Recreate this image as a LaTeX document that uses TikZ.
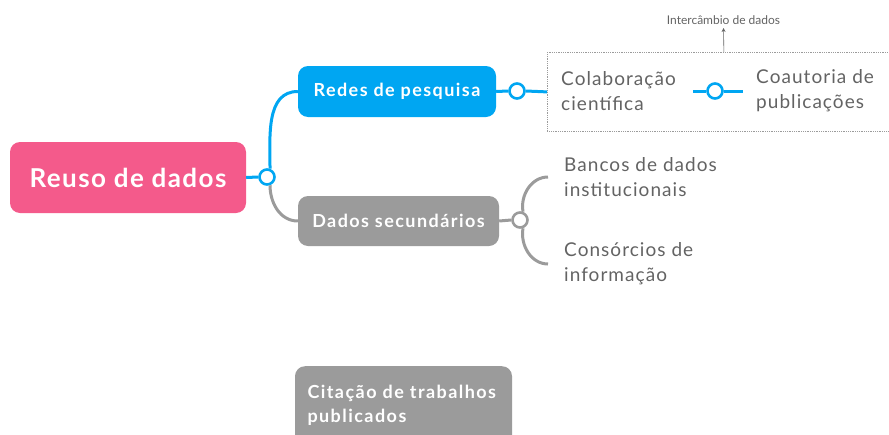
\documentclass[tikz,border=0pt]{standalone}
\usepackage{fontspec}
\setmainfont{Lato}
\newfontfamily\caixafont[LetterSpace=8]{Lato}
\newfontfamily\raizfont[LetterSpace=5.5]{Lato}
\newfontfamily\folhafont[LetterSpace=5.5]{Lato}
\usetikzlibrary{arrows.meta}
\definecolor{rosa}{HTML}{F45A8B}
\definecolor{azul}{HTML}{00A6F2}
\definecolor{cinza}{HTML}{9B9B9B}
\definecolor{texto}{HTML}{636363}
\begin{document}
\begin{tikzpicture}[x=1pt, y=-1pt,
    caixa/.style={rounded corners=10pt, text=white, inner sep=0pt, font=\caixafont\bfseries\fontsize{18}{23}\selectfont},
    folha/.style={anchor=west, align=left, text=texto, font=\folhafont\fontsize{19}{25}\selectfont, inner sep=0pt},
    junta/.style={circle, draw=#1, fill=white, line width=2.6pt, minimum size=15pt, inner sep=0pt},
    liga/.style={line width=3pt, draw=#1}]
        \clip (0,0) rectangle (889,434);
        \useasboundingbox (0,0) rectangle (889,434);

        \node[caixa, fill=rosa, minimum width=236, minimum height=71, font=\raizfont\bfseries\fontsize{26}{30}\selectfont] (reuso) at(128, 177.5){Reuso de dados};
        \node[junta=azul] (j1) at(267, 177){};
        \node[caixa, fill=azul, minimum width=198, minimum height=51] (redes) at(397, 91.5){Redes de pesquisa};
        \node[caixa, fill=cinza, minimum width=201, minimum height=50] (dados) at(398.5, 221){Dados secundários};
        \node[caixa, fill=cinza, anchor=north, align=left, text width=192, inner xsep=12.5, inner ysep=19, text depth=30pt, font=\caixafont\bfseries\fontsize{18}{24}\selectfont] (citacao) at(403.5, 366){Citação de trabalhos\\publicados};

        \draw[liga=azul] (reuso.east) to (j1.west);
        \draw[liga=azul] (j1.70) to[out=90, in=180] (redes.west);
        \draw[liga=cinza] (j1.-70) to[out=-90, in=180] (dados.west);

        % grupo tracejado
        \node[draw=cinza, densely dotted, line width=0.8pt, minimum width=353, minimum height=79, anchor=north west, inner sep=0pt] (grupo) at(547, 52){};
        \node[text=texto, font=\fontsize{12}{14}\selectfont] (troca) at(723.5, 20){Intercâmbio de dados};
        \draw[-{Stealth[length=4pt, width=4pt]}, draw=texto, line width=0.6pt] (grupo.north) to (troca.south);

        \node[junta=azul] (j2) at(517, 91){};
        \draw[liga=azul] (redes.east) to (j2.west);
        \draw[liga=azul] (j2.east) to (grupo.west);

        \node[folha] (colab) at(561, 91){Colaboração\\científica};
        \node[folha] (coaut) at(756, 91){Coautoria de\\publicações};
        \node[junta=azul] (j3) at(715, 91){};
        \coordinate (p1) at(693, 91);
        \coordinate (p2) at(743, 91);
        \draw[liga=azul] (p1) to (j3.west);
        \draw[liga=azul] (j3.east) to (p2);

        \node[junta=cinza] (j4) at(520, 220){};
        \draw[liga=cinza] (dados.east) to (j4.west);
        \node[folha, inner xsep=16pt] (bancos) at(548, 177){Bancos de dados\\institucionais};
        \node[folha, inner xsep=16pt] (consorcio) at(548, 264){Consórcios de\\informação};
        \draw[liga=cinza] (j4.70) to[out=100, in=180] (bancos.west);
        \draw[liga=cinza] (j4.-70) to[out=-100, in=180] (consorcio.west);
\end{tikzpicture}
\end{document}
